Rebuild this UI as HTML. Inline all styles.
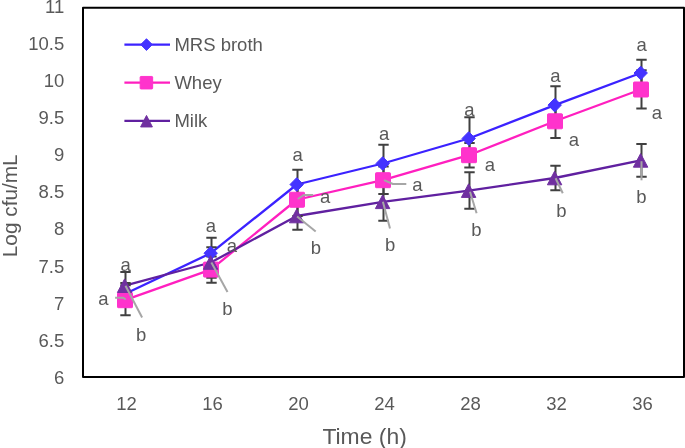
<!DOCTYPE html>
<html><head><meta charset="utf-8"><title>Growth chart</title>
<style>html,body{margin:0;padding:0;background:#fff;}body{width:685px;height:448px;overflow:hidden;}svg{display:block;will-change:transform;}
text{font-family:"Liberation Sans",sans-serif;}</style></head>
<body>
<svg width="685" height="448" viewBox="0 0 685 448">
<rect x="0" y="0" width="685" height="448" fill="#ffffff"/>
<rect x="83" y="7.8" width="601" height="369.2" fill="none" stroke="#000" stroke-width="2" stroke-linejoin="round"/>
<text x="64.3" y="383.75" text-anchor="end" font-size="18.5" fill="#595959" font-family="Liberation Sans, sans-serif">6</text>
<text x="64.3" y="346.67" text-anchor="end" font-size="18.5" fill="#595959" font-family="Liberation Sans, sans-serif">6.5</text>
<text x="64.3" y="309.59" text-anchor="end" font-size="18.5" fill="#595959" font-family="Liberation Sans, sans-serif">7</text>
<text x="64.3" y="272.51" text-anchor="end" font-size="18.5" fill="#595959" font-family="Liberation Sans, sans-serif">7.5</text>
<text x="64.3" y="235.43" text-anchor="end" font-size="18.5" fill="#595959" font-family="Liberation Sans, sans-serif">8</text>
<text x="64.3" y="198.35" text-anchor="end" font-size="18.5" fill="#595959" font-family="Liberation Sans, sans-serif">8.5</text>
<text x="64.3" y="161.27" text-anchor="end" font-size="18.5" fill="#595959" font-family="Liberation Sans, sans-serif">9</text>
<text x="64.3" y="124.19" text-anchor="end" font-size="18.5" fill="#595959" font-family="Liberation Sans, sans-serif">9.5</text>
<text x="64.3" y="87.11" text-anchor="end" font-size="18.5" fill="#595959" font-family="Liberation Sans, sans-serif">10</text>
<text x="64.3" y="50.03" text-anchor="end" font-size="18.5" fill="#595959" font-family="Liberation Sans, sans-serif">10.5</text>
<text x="64.3" y="12.95" text-anchor="end" font-size="18.5" fill="#595959" font-family="Liberation Sans, sans-serif">11</text>
<text x="126.50" y="409.9" text-anchor="middle" font-size="18.5" fill="#595959" font-family="Liberation Sans, sans-serif">12</text>
<text x="212.50" y="409.9" text-anchor="middle" font-size="18.5" fill="#595959" font-family="Liberation Sans, sans-serif">16</text>
<text x="298.50" y="409.9" text-anchor="middle" font-size="18.5" fill="#595959" font-family="Liberation Sans, sans-serif">20</text>
<text x="384.50" y="409.9" text-anchor="middle" font-size="18.5" fill="#595959" font-family="Liberation Sans, sans-serif">24</text>
<text x="470.50" y="409.9" text-anchor="middle" font-size="18.5" fill="#595959" font-family="Liberation Sans, sans-serif">28</text>
<text x="556.50" y="409.9" text-anchor="middle" font-size="18.5" fill="#595959" font-family="Liberation Sans, sans-serif">32</text>
<text x="642.50" y="409.9" text-anchor="middle" font-size="18.5" fill="#595959" font-family="Liberation Sans, sans-serif">36</text>
<text x="364.6" y="443.8" text-anchor="middle" font-size="22.9" fill="#595959" font-family="Liberation Sans, sans-serif">Time (h)</text>
<text transform="translate(17.4 205.8) rotate(-90)" x="0" y="0" text-anchor="middle" font-size="20.8" fill="#595959" font-family="Liberation Sans, sans-serif">Log cfu/mL</text>
<polyline points="124.8,294.0 210.8,253.2 296.8,184.5 382.8,163.5 468.8,138.5 554.8,105.1 640.8,73.0" fill="none" stroke="#3b22ff" stroke-width="2.3" stroke-linejoin="round" stroke-linecap="round"/>
<polyline points="124.8,300.2 210.8,269.6 296.8,199.75 382.8,180.2 468.8,155.2 554.8,121.3 640.8,89.5" fill="none" stroke="#ff1fbf" stroke-width="2.3" stroke-linejoin="round" stroke-linecap="round"/>
<polyline points="124.8,285.7 210.8,262.5 296.8,216.0 382.8,201.8 468.8,190.6 554.8,178.0 640.8,160.4" fill="none" stroke="#6020a0" stroke-width="2.3" stroke-linejoin="round" stroke-linecap="round"/>
<path d="M125.5 272.1V299.3M120.3 272.1H130.7M120.3 299.3H130.7" stroke="#404040" stroke-width="2" fill="none"/>
<path d="M125.5 285.2V315.2M120.3 285.2H130.7M120.3 315.2H130.7" stroke="#404040" stroke-width="2" fill="none"/>
<path d="M125.5 282.9V299.0M120.3 282.9H130.7M120.3 299.0H130.7" stroke="#404040" stroke-width="2" fill="none"/>
<path d="M211.5 237.8V268.6M206.3 237.8H216.7M206.3 268.6H216.7" stroke="#404040" stroke-width="2" fill="none"/>
<path d="M211.5 256.5V282.7M206.3 256.5H216.7M206.3 282.7H216.7" stroke="#404040" stroke-width="2" fill="none"/>
<path d="M211.5 247.3V277.7M206.3 247.3H216.7M206.3 277.7H216.7" stroke="#404040" stroke-width="2" fill="none"/>
<path d="M297.5 169.7V199.3M292.3 169.7H302.7M292.3 199.3H302.7" stroke="#404040" stroke-width="2" fill="none"/>
<path d="M297.5 183.5V216.0M292.3 183.5H302.7M292.3 216.0H302.7" stroke="#404040" stroke-width="2" fill="none"/>
<path d="M297.5 202.2V229.8M292.3 202.2H302.7M292.3 229.8H302.7" stroke="#404040" stroke-width="2" fill="none"/>
<path d="M383.5 144.7V182.3M378.3 144.7H388.7M378.3 182.3H388.7" stroke="#404040" stroke-width="2" fill="none"/>
<path d="M383.5 166.4V194.0M378.3 166.4H388.7M378.3 194.0H388.7" stroke="#404040" stroke-width="2" fill="none"/>
<path d="M383.5 182.9V220.7M378.3 182.9H388.7M378.3 220.7H388.7" stroke="#404040" stroke-width="2" fill="none"/>
<path d="M469.5 117.3V159.7M464.3 117.3H474.7M464.3 159.7H474.7" stroke="#404040" stroke-width="2" fill="none"/>
<path d="M469.5 143.0V167.4M464.3 143.0H474.7M464.3 167.4H474.7" stroke="#404040" stroke-width="2" fill="none"/>
<path d="M469.5 172.2V208.8M464.3 172.2H474.7M464.3 208.8H474.7" stroke="#404040" stroke-width="2" fill="none"/>
<path d="M555.5 86.3V123.9M550.3 86.3H560.7M550.3 123.9H560.7" stroke="#404040" stroke-width="2" fill="none"/>
<path d="M555.5 104.6V138.0M550.3 104.6H560.7M550.3 138.0H560.7" stroke="#404040" stroke-width="2" fill="none"/>
<path d="M555.5 165.7V190.3M550.3 165.7H560.7M550.3 190.3H560.7" stroke="#404040" stroke-width="2" fill="none"/>
<path d="M641.5 59.8V86.4M636.3 59.8H646.7M636.3 86.4H646.7" stroke="#404040" stroke-width="2" fill="none"/>
<path d="M641.5 70.2V108.5M636.3 70.2H646.7M636.3 108.5H646.7" stroke="#404040" stroke-width="2" fill="none"/>
<path d="M641.5 144.1V176.7M636.3 144.1H646.7M636.3 176.7H646.7" stroke="#404040" stroke-width="2" fill="none"/>
<path d="M124.7 287.2L131.4 294.0L124.7 300.8L118.0 294.0Z" fill="#4433ff" stroke="#4433ff" stroke-width="1"/>
<path d="M210.7 246.39999999999998L217.39999999999998 253.2L210.7 260.0L204.0 253.2Z" fill="#4433ff" stroke="#4433ff" stroke-width="1"/>
<path d="M296.7 177.7L303.4 184.5L296.7 191.3L290.0 184.5Z" fill="#4433ff" stroke="#4433ff" stroke-width="1"/>
<path d="M382.7 156.7L389.4 163.5L382.7 170.3L376.0 163.5Z" fill="#4433ff" stroke="#4433ff" stroke-width="1"/>
<path d="M468.7 131.7L475.4 138.5L468.7 145.3L462.0 138.5Z" fill="#4433ff" stroke="#4433ff" stroke-width="1"/>
<path d="M554.7 98.3L561.4000000000001 105.1L554.7 111.89999999999999L548.0 105.1Z" fill="#4433ff" stroke="#4433ff" stroke-width="1"/>
<path d="M640.7 66.2L647.4000000000001 73.0L640.7 79.8L634.0 73.0Z" fill="#4433ff" stroke="#4433ff" stroke-width="1"/>
<rect x="117.5" y="292.7" width="15" height="15" fill="#ff33cc" stroke="#ff33cc" stroke-width="1" rx="0.8"/>
<rect x="203.5" y="262.1" width="15" height="15" fill="#ff33cc" stroke="#ff33cc" stroke-width="1" rx="0.8"/>
<rect x="289.5" y="192.25" width="15" height="15" fill="#ff33cc" stroke="#ff33cc" stroke-width="1" rx="0.8"/>
<rect x="375.5" y="172.7" width="15" height="15" fill="#ff33cc" stroke="#ff33cc" stroke-width="1" rx="0.8"/>
<rect x="461.5" y="147.7" width="15" height="15" fill="#ff33cc" stroke="#ff33cc" stroke-width="1" rx="0.8"/>
<rect x="547.5" y="113.8" width="15" height="15" fill="#ff33cc" stroke="#ff33cc" stroke-width="1" rx="0.8"/>
<rect x="633.5" y="82.0" width="15" height="15" fill="#ff33cc" stroke="#ff33cc" stroke-width="1" rx="0.8"/>
<path d="M124.6 278.9L131.79999999999998 292.5L117.39999999999999 292.5Z" fill="#7030a0" stroke="#7030a0" stroke-width="1" stroke-linejoin="round"/>
<path d="M210.6 255.7L217.79999999999998 269.3L203.4 269.3Z" fill="#7030a0" stroke="#7030a0" stroke-width="1" stroke-linejoin="round"/>
<path d="M296.6 209.2L303.8 222.8L289.40000000000003 222.8Z" fill="#7030a0" stroke="#7030a0" stroke-width="1" stroke-linejoin="round"/>
<path d="M382.6 195.0L389.8 208.60000000000002L375.40000000000003 208.60000000000002Z" fill="#7030a0" stroke="#7030a0" stroke-width="1" stroke-linejoin="round"/>
<path d="M468.6 183.79999999999998L475.8 197.4L461.40000000000003 197.4Z" fill="#7030a0" stroke="#7030a0" stroke-width="1" stroke-linejoin="round"/>
<path d="M554.6 171.2L561.8000000000001 184.8L547.4 184.8Z" fill="#7030a0" stroke="#7030a0" stroke-width="1" stroke-linejoin="round"/>
<path d="M640.6 153.6L647.8000000000001 167.20000000000002L633.4 167.20000000000002Z" fill="#7030a0" stroke="#7030a0" stroke-width="1" stroke-linejoin="round"/>
<path d="M115.1 297.7H123.1L125.8 299.5" stroke="#a6a6a6" stroke-width="2" fill="none" stroke-linejoin="round"/>
<path d="M125.5 285.7L142.1 317.5" stroke="#a6a6a6" stroke-width="2" fill="none" stroke-linejoin="round"/>
<path d="M211.4 262.5L227.5 292" stroke="#a6a6a6" stroke-width="2" fill="none" stroke-linejoin="round"/>
<path d="M297.8 199L303.8 195H313.2" stroke="#a6a6a6" stroke-width="2" fill="none" stroke-linejoin="round"/>
<path d="M297.1 216.5L315.7 231.5" stroke="#a6a6a6" stroke-width="2" fill="none" stroke-linejoin="round"/>
<path d="M384 180.2L392.9 184H406.3" stroke="#a6a6a6" stroke-width="2" fill="none" stroke-linejoin="round"/>
<path d="M382.9 201.8L390 228.5" stroke="#a6a6a6" stroke-width="2" fill="none" stroke-linejoin="round"/>
<path d="M470 191.8L476.6 213.2" stroke="#a6a6a6" stroke-width="2" fill="none" stroke-linejoin="round"/>
<path d="M555.6 178.2L562.8 193.3" stroke="#a6a6a6" stroke-width="2" fill="none" stroke-linejoin="round"/>
<path d="M641.5 161.2V180.3" stroke="#a6a6a6" stroke-width="2" fill="none" stroke-linejoin="round"/>
<text x="125.60" y="270.70" text-anchor="middle" font-size="18.5" fill="#595959" font-family="Liberation Sans, sans-serif">a</text>
<text x="103.30" y="304.80" text-anchor="middle" font-size="18.5" fill="#595959" font-family="Liberation Sans, sans-serif">a</text>
<text x="210.90" y="231.50" text-anchor="middle" font-size="18.5" fill="#595959" font-family="Liberation Sans, sans-serif">a</text>
<text x="232.00" y="252.30" text-anchor="middle" font-size="18.5" fill="#595959" font-family="Liberation Sans, sans-serif">a</text>
<text x="297.60" y="161.20" text-anchor="middle" font-size="18.5" fill="#595959" font-family="Liberation Sans, sans-serif">a</text>
<text x="325.10" y="203.20" text-anchor="middle" font-size="18.5" fill="#595959" font-family="Liberation Sans, sans-serif">a</text>
<text x="384.10" y="140.40" text-anchor="middle" font-size="18.5" fill="#595959" font-family="Liberation Sans, sans-serif">a</text>
<text x="417.50" y="191.00" text-anchor="middle" font-size="18.5" fill="#595959" font-family="Liberation Sans, sans-serif">a</text>
<text x="469.30" y="116.20" text-anchor="middle" font-size="18.5" fill="#595959" font-family="Liberation Sans, sans-serif">a</text>
<text x="489.90" y="170.70" text-anchor="middle" font-size="18.5" fill="#595959" font-family="Liberation Sans, sans-serif">a</text>
<text x="555.40" y="82.30" text-anchor="middle" font-size="18.5" fill="#595959" font-family="Liberation Sans, sans-serif">a</text>
<text x="573.90" y="146.20" text-anchor="middle" font-size="18.5" fill="#595959" font-family="Liberation Sans, sans-serif">a</text>
<text x="641.70" y="50.50" text-anchor="middle" font-size="18.5" fill="#595959" font-family="Liberation Sans, sans-serif">a</text>
<text x="656.90" y="119.10" text-anchor="middle" font-size="18.5" fill="#595959" font-family="Liberation Sans, sans-serif">a</text>
<text x="141.20" y="341.15" text-anchor="middle" font-size="18.5" fill="#595959" font-family="Liberation Sans, sans-serif">b</text>
<text x="227.50" y="314.75" text-anchor="middle" font-size="18.5" fill="#595959" font-family="Liberation Sans, sans-serif">b</text>
<text x="315.80" y="253.85" text-anchor="middle" font-size="18.5" fill="#595959" font-family="Liberation Sans, sans-serif">b</text>
<text x="390.10" y="250.95" text-anchor="middle" font-size="18.5" fill="#595959" font-family="Liberation Sans, sans-serif">b</text>
<text x="476.40" y="236.05" text-anchor="middle" font-size="18.5" fill="#595959" font-family="Liberation Sans, sans-serif">b</text>
<text x="561.50" y="216.95" text-anchor="middle" font-size="18.5" fill="#595959" font-family="Liberation Sans, sans-serif">b</text>
<text x="641.50" y="203.45" text-anchor="middle" font-size="18.5" fill="#595959" font-family="Liberation Sans, sans-serif">b</text>
<line x1="124.4" y1="44.6" x2="170" y2="44.6" stroke="#3b22ff" stroke-width="2.3"/>
<path d="M146.5 38.800000000000004L152.3 44.6L146.5 50.4L140.7 44.6Z" fill="#4433ff" stroke="#4433ff" stroke-width="1"/>
<text x="174.4" y="51.10" font-size="18.5" fill="#595959" font-family="Liberation Sans, sans-serif">MRS broth</text>
<line x1="124.4" y1="82.7" x2="170" y2="82.7" stroke="#ff1fbf" stroke-width="2.3"/>
<rect x="140.15" y="76.45" width="12.5" height="12.5" fill="#ff33cc" stroke="#ff33cc" stroke-width="1" rx="0.8"/>
<text x="174.4" y="89.20" font-size="18.5" fill="#595959" font-family="Liberation Sans, sans-serif">Whey</text>
<line x1="124.4" y1="120.8" x2="170" y2="120.8" stroke="#6020a0" stroke-width="2.3"/>
<path d="M146.5 115.45L152.4 126.95L140.6 126.95Z" fill="#7030a0" stroke="#7030a0" stroke-width="1" stroke-linejoin="round"/>
<text x="174.4" y="127.30" font-size="18.5" fill="#595959" font-family="Liberation Sans, sans-serif">Milk</text>
</svg>
</body></html>
